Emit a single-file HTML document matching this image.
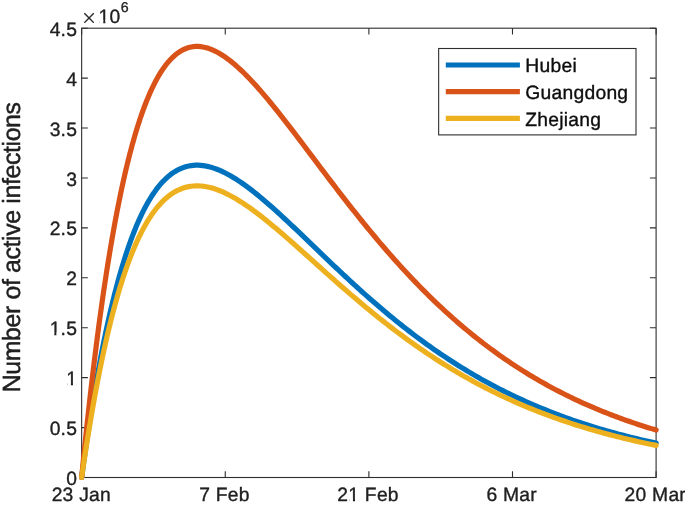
<!DOCTYPE html>
<html lang="en"><head><meta charset="utf-8"><title>Number of active infections</title>
<style>html,body{margin:0;padding:0;background:#fff}body{width:685px;height:506px;overflow:hidden}svg{display:block}text{text-rendering:geometricPrecision}</style></head>
<body>
<svg width="685" height="506" viewBox="0 0 685 506">
<rect x="0" y="0" width="685" height="506" fill="#fff"/>
<g stroke="#2e2e2e" stroke-width="1.1" fill="none">
<rect x="81.65" y="28.2" width="574.45" height="449.30"/>
<path d="M81.65,477.5 v-6.2 M81.65,28.2 v6.2"/>
<path d="M225.26,477.5 v-6.2 M225.26,28.2 v6.2"/>
<path d="M368.88,477.5 v-6.2 M368.88,28.2 v6.2"/>
<path d="M512.49,477.5 v-6.2 M512.49,28.2 v6.2"/>
<path d="M656.10,477.5 v-6.2 M656.10,28.2 v6.2"/>
<path d="M81.65,477.50 h6.2 M656.1,477.50 h-6.2"/>
<path d="M81.65,427.58 h6.2 M656.1,427.58 h-6.2"/>
<path d="M81.65,377.66 h6.2 M656.1,377.66 h-6.2"/>
<path d="M81.65,327.73 h6.2 M656.1,327.73 h-6.2"/>
<path d="M81.65,277.81 h6.2 M656.1,277.81 h-6.2"/>
<path d="M81.65,227.89 h6.2 M656.1,227.89 h-6.2"/>
<path d="M81.65,177.97 h6.2 M656.1,177.97 h-6.2"/>
<path d="M81.65,128.04 h6.2 M656.1,128.04 h-6.2"/>
<path d="M81.65,78.12 h6.2 M656.1,78.12 h-6.2"/>
<path d="M81.65,28.20 h6.2 M656.1,28.20 h-6.2"/>
</g>
<path d="M81.65,477.50 L82.41,471.91 L83.16,466.40 L83.92,460.96 L84.67,455.59 L85.43,450.29 L86.19,445.07 L86.94,439.92 L87.70,434.84 L88.45,429.82 L89.21,424.88 L89.96,420.00 L90.72,415.19 L91.48,410.45 L92.23,405.78 L92.99,401.16 L93.74,396.62 L94.50,392.14 L95.26,387.72 L96.01,383.36 L96.77,379.07 L97.52,374.83 L98.28,370.66 L99.03,366.55 L99.79,362.49 L100.55,358.50 L101.30,354.56 L102.06,350.68 L102.81,346.86 L103.57,343.10 L104.33,339.39 L105.08,335.73 L105.84,332.13 L106.59,328.59 L107.35,325.09 L108.10,321.65 L108.86,318.27 L109.62,314.93 L110.37,311.65 L111.13,308.41 L111.88,305.23 L112.64,302.09 L113.40,299.01 L114.15,295.97 L114.91,292.98 L115.66,290.04 L116.42,287.15 L117.18,284.30 L117.93,281.50 L118.69,278.74 L119.44,276.03 L120.20,273.37 L120.95,270.74 L121.71,268.16 L122.47,265.63 L123.22,263.13 L123.98,260.68 L124.73,258.27 L125.49,255.90 L126.25,253.58 L127.00,251.29 L127.76,249.04 L128.51,246.83 L129.27,244.67 L130.02,242.53 L130.78,240.44 L131.54,238.39 L132.29,236.37 L133.05,234.39 L133.80,232.45 L134.56,230.54 L135.32,228.67 L136.07,226.83 L136.83,225.03 L137.58,223.26 L138.34,221.53 L139.10,219.83 L139.85,218.16 L140.61,216.53 L141.36,214.93 L142.12,213.36 L144.45,208.71 L146.79,204.36 L149.13,200.29 L151.46,196.50 L153.80,192.97 L156.14,189.69 L158.47,186.66 L160.81,183.87 L163.14,181.31 L165.48,178.96 L167.82,176.83 L170.15,174.91 L172.49,173.18 L174.83,171.64 L177.16,170.28 L179.50,169.10 L181.84,168.09 L184.17,167.24 L186.51,166.54 L188.84,166.00 L191.18,165.60 L193.52,165.34 L195.85,165.21 L198.19,165.21 L200.53,165.34 L202.86,165.58 L205.20,165.93 L207.53,166.39 L209.87,166.96 L212.21,167.62 L214.54,168.38 L216.88,169.23 L219.22,170.17 L221.55,171.18 L223.89,172.28 L226.22,173.45 L228.56,174.70 L230.90,176.01 L233.23,177.39 L235.57,178.83 L237.91,180.33 L240.24,181.88 L242.58,183.49 L244.91,185.15 L247.25,186.85 L249.59,188.60 L251.92,190.40 L254.26,192.23 L256.60,194.10 L258.93,196.00 L261.27,197.94 L263.60,199.91 L265.94,201.91 L268.28,203.94 L270.61,205.99 L272.95,208.06 L275.29,210.16 L277.62,212.28 L279.96,214.41 L282.30,216.56 L284.63,218.73 L286.97,220.91 L289.30,223.10 L291.64,225.30 L293.98,227.51 L296.31,229.73 L298.65,231.96 L300.99,234.20 L303.32,236.43 L305.66,238.68 L307.99,240.92 L310.33,243.17 L312.67,245.42 L315.00,247.67 L317.34,249.91 L319.68,252.16 L322.01,254.40 L324.35,256.64 L326.68,258.87 L329.02,261.10 L331.36,263.33 L333.69,265.55 L336.03,267.76 L338.37,269.96 L340.70,272.16 L343.04,274.34 L345.37,276.52 L347.71,278.69 L350.05,280.85 L352.38,283.00 L354.72,285.14 L357.06,287.26 L359.39,289.38 L361.73,291.48 L364.07,293.57 L366.40,295.65 L368.74,297.71 L371.07,299.77 L373.41,301.80 L375.75,303.83 L378.08,305.84 L380.42,307.84 L382.76,309.82 L385.09,311.79 L387.43,313.74 L389.76,315.68 L392.10,317.60 L394.44,319.50 L396.77,321.40 L399.11,323.27 L401.45,325.13 L403.78,326.98 L406.12,328.81 L408.45,330.62 L410.79,332.42 L413.13,334.20 L415.46,335.97 L417.80,337.72 L420.14,339.45 L422.47,341.17 L424.81,342.87 L427.14,344.55 L429.48,346.22 L431.82,347.87 L434.15,349.51 L436.49,351.13 L438.83,352.73 L441.16,354.32 L443.50,355.89 L445.83,357.45 L448.17,358.99 L450.51,360.51 L452.84,362.02 L455.18,363.51 L457.52,364.99 L459.85,366.45 L462.19,367.89 L464.53,369.32 L466.86,370.73 L469.20,372.13 L471.53,373.51 L473.87,374.88 L476.21,376.23 L478.54,377.57 L480.88,378.89 L483.22,380.20 L485.55,381.49 L487.89,382.77 L490.22,384.03 L492.56,385.28 L494.90,386.52 L497.23,387.74 L499.57,388.94 L501.91,390.13 L504.24,391.31 L506.58,392.47 L508.91,393.62 L511.25,394.76 L513.59,395.88 L515.92,396.99 L518.26,398.08 L520.60,399.16 L522.93,400.23 L525.27,401.29 L527.60,402.33 L529.94,403.36 L532.28,404.38 L534.61,405.38 L536.95,406.37 L539.29,407.35 L541.62,408.32 L543.96,409.28 L546.29,410.22 L548.63,411.15 L550.97,412.07 L553.30,412.98 L555.64,413.88 L557.98,414.76 L560.31,415.64 L562.65,416.50 L564.99,417.35 L567.32,418.19 L569.66,419.02 L571.99,419.84 L574.33,420.65 L576.67,421.45 L579.00,422.24 L581.34,423.01 L583.68,423.78 L586.01,424.54 L588.35,425.28 L590.68,426.02 L593.02,426.75 L595.36,427.47 L597.69,428.18 L600.03,428.88 L602.37,429.57 L604.70,430.25 L607.04,430.92 L609.37,431.58 L611.71,432.23 L614.05,432.88 L616.38,433.52 L618.72,434.14 L621.06,434.76 L623.39,435.37 L625.73,435.98 L628.06,436.57 L630.40,437.16 L632.74,437.74 L635.07,438.31 L637.41,438.87 L639.75,439.43 L642.08,439.97 L644.42,440.51 L646.75,441.05 L649.09,441.57 L651.43,442.09 L653.76,442.60 L656.10,443.10" fill="none" stroke="#0072BD" stroke-width="5.2" stroke-linejoin="round" stroke-linecap="round"/>
<path d="M81.65,477.50 L82.41,469.79 L83.16,462.17 L83.92,454.66 L84.67,447.26 L85.43,439.95 L86.19,432.74 L86.94,425.63 L87.70,418.61 L88.45,411.69 L89.21,404.87 L89.96,398.14 L90.72,391.50 L91.48,384.96 L92.23,378.50 L92.99,372.14 L93.74,365.86 L94.50,359.68 L95.26,353.58 L96.01,347.56 L96.77,341.64 L97.52,335.79 L98.28,330.03 L99.03,324.36 L99.79,318.76 L100.55,313.25 L101.30,307.81 L102.06,302.46 L102.81,297.19 L103.57,291.99 L104.33,286.87 L105.08,281.82 L105.84,276.85 L106.59,271.96 L107.35,267.14 L108.10,262.39 L108.86,257.72 L109.62,253.11 L110.37,248.58 L111.13,244.12 L111.88,239.72 L112.64,235.39 L113.40,231.14 L114.15,226.95 L114.91,222.82 L115.66,218.76 L116.42,214.77 L117.18,210.84 L117.93,206.97 L118.69,203.16 L119.44,199.42 L120.20,195.74 L120.95,192.12 L121.71,188.56 L122.47,185.06 L123.22,181.62 L123.98,178.24 L124.73,174.91 L125.49,171.64 L126.25,168.43 L127.00,165.27 L127.76,162.17 L128.51,159.12 L129.27,156.13 L130.02,153.19 L130.78,150.30 L131.54,147.46 L132.29,144.68 L133.05,141.95 L133.80,139.26 L134.56,136.63 L135.32,134.05 L136.07,131.51 L136.83,129.02 L137.58,126.58 L138.34,124.19 L139.10,121.85 L139.85,119.55 L140.61,117.29 L141.36,115.08 L142.12,112.92 L144.45,106.51 L146.79,100.50 L149.13,94.88 L151.46,89.64 L153.80,84.77 L156.14,80.25 L158.47,76.07 L160.81,72.21 L163.14,68.68 L165.48,65.44 L167.82,62.50 L170.15,59.84 L172.49,57.45 L174.83,55.33 L177.16,53.46 L179.50,51.83 L181.84,50.43 L184.17,49.25 L186.51,48.30 L188.84,47.55 L191.18,47.00 L193.52,46.64 L195.85,46.46 L198.19,46.46 L200.53,46.63 L202.86,46.97 L205.20,47.45 L207.53,48.09 L209.87,48.87 L212.21,49.79 L214.54,50.83 L216.88,52.01 L219.22,53.30 L221.55,54.70 L223.89,56.22 L226.22,57.84 L228.56,59.56 L230.90,61.37 L233.23,63.27 L235.57,65.26 L237.91,67.33 L240.24,69.47 L242.58,71.69 L244.91,73.98 L247.25,76.33 L249.59,78.75 L251.92,81.22 L254.26,83.75 L256.60,86.33 L258.93,88.96 L261.27,91.64 L263.60,94.36 L265.94,97.12 L268.28,99.91 L270.61,102.74 L272.95,105.61 L275.29,108.50 L277.62,111.42 L279.96,114.37 L282.30,117.33 L284.63,120.32 L286.97,123.33 L289.30,126.36 L291.64,129.40 L293.98,132.45 L296.31,135.52 L298.65,138.59 L300.99,141.68 L303.32,144.77 L305.66,147.86 L307.99,150.96 L310.33,154.06 L312.67,157.17 L315.00,160.27 L317.34,163.37 L319.68,166.47 L322.01,169.56 L324.35,172.65 L326.68,175.74 L329.02,178.82 L331.36,181.89 L333.69,184.95 L336.03,188.00 L338.37,191.04 L340.70,194.07 L343.04,197.09 L345.37,200.10 L347.71,203.09 L350.05,206.07 L352.38,209.04 L354.72,211.99 L357.06,214.92 L359.39,217.84 L361.73,220.75 L364.07,223.63 L366.40,226.50 L368.74,229.35 L371.07,232.18 L373.41,234.99 L375.75,237.79 L378.08,240.56 L380.42,243.32 L382.76,246.05 L385.09,248.77 L387.43,251.46 L389.76,254.14 L392.10,256.79 L394.44,259.43 L396.77,262.04 L399.11,264.63 L401.45,267.19 L403.78,269.74 L406.12,272.27 L408.45,274.77 L410.79,277.25 L413.13,279.71 L415.46,282.15 L417.80,284.56 L420.14,286.95 L422.47,289.32 L424.81,291.67 L427.14,294.00 L429.48,296.30 L431.82,298.58 L434.15,300.84 L436.49,303.07 L438.83,305.29 L441.16,307.48 L443.50,309.65 L445.83,311.80 L448.17,313.92 L450.51,316.02 L452.84,318.10 L455.18,320.16 L457.52,322.20 L459.85,324.22 L462.19,326.21 L464.53,328.18 L466.86,330.13 L469.20,332.06 L471.53,333.97 L473.87,335.86 L476.21,337.73 L478.54,339.57 L480.88,341.40 L483.22,343.20 L485.55,344.99 L487.89,346.75 L490.22,348.49 L492.56,350.21 L494.90,351.92 L497.23,353.60 L499.57,355.26 L501.91,356.91 L504.24,358.53 L506.58,360.14 L508.91,361.72 L511.25,363.29 L513.59,364.84 L515.92,366.37 L518.26,367.88 L520.60,369.38 L522.93,370.85 L525.27,372.31 L527.60,373.75 L529.94,375.17 L532.28,376.57 L534.61,377.96 L536.95,379.33 L539.29,380.68 L541.62,382.02 L543.96,383.34 L546.29,384.64 L548.63,385.92 L550.97,387.19 L553.30,388.45 L555.64,389.68 L557.98,390.91 L560.31,392.11 L562.65,393.30 L564.99,394.48 L567.32,395.64 L569.66,396.78 L571.99,397.92 L574.33,399.03 L576.67,400.13 L579.00,401.22 L581.34,402.29 L583.68,403.35 L586.01,404.40 L588.35,405.43 L590.68,406.45 L593.02,407.45 L595.36,408.44 L597.69,409.42 L600.03,410.39 L602.37,411.34 L604.70,412.28 L607.04,413.20 L609.37,414.12 L611.71,415.02 L614.05,415.91 L616.38,416.79 L618.72,417.66 L621.06,418.51 L623.39,419.36 L625.73,420.19 L628.06,421.01 L630.40,421.82 L632.74,422.62 L635.07,423.40 L637.41,424.18 L639.75,424.95 L642.08,425.70 L644.42,426.45 L646.75,427.18 L649.09,427.91 L651.43,428.62 L653.76,429.33 L656.10,430.03" fill="none" stroke="#D95319" stroke-width="5.2" stroke-linejoin="round" stroke-linecap="round"/>
<path d="M81.65,477.50 L82.41,472.28 L83.16,467.13 L83.92,462.05 L84.67,457.04 L85.43,452.09 L86.19,447.21 L86.94,442.40 L87.70,437.66 L88.45,432.97 L89.21,428.36 L89.96,423.80 L90.72,419.31 L91.48,414.88 L92.23,410.52 L92.99,406.21 L93.74,401.97 L94.50,397.78 L95.26,393.65 L96.01,389.58 L96.77,385.57 L97.52,381.62 L98.28,377.72 L99.03,373.88 L99.79,370.10 L100.55,366.37 L101.30,362.69 L102.06,359.07 L102.81,355.50 L103.57,351.98 L104.33,348.52 L105.08,345.11 L105.84,341.74 L106.59,338.43 L107.35,335.17 L108.10,331.96 L108.86,328.79 L109.62,325.68 L110.37,322.61 L111.13,319.59 L111.88,316.62 L112.64,313.69 L113.40,310.81 L114.15,307.97 L114.91,305.18 L115.66,302.44 L116.42,299.73 L117.18,297.07 L117.93,294.46 L118.69,291.88 L119.44,289.35 L120.20,286.86 L120.95,284.41 L121.71,282.00 L122.47,279.64 L123.22,277.31 L123.98,275.02 L124.73,272.77 L125.49,270.56 L126.25,268.38 L127.00,266.25 L127.76,264.15 L128.51,262.08 L129.27,260.06 L130.02,258.07 L130.78,256.12 L131.54,254.20 L132.29,252.31 L133.05,250.46 L133.80,248.65 L134.56,246.87 L135.32,245.12 L136.07,243.40 L136.83,241.72 L137.58,240.07 L138.34,238.45 L139.10,236.86 L139.85,235.31 L140.61,233.78 L141.36,232.29 L142.12,230.83 L144.45,226.49 L146.79,222.42 L149.13,218.62 L151.46,215.08 L153.80,211.78 L156.14,208.72 L158.47,205.89 L160.81,203.28 L163.14,200.89 L165.48,198.70 L167.82,196.71 L170.15,194.91 L172.49,193.30 L174.83,191.86 L177.16,190.59 L179.50,189.49 L181.84,188.54 L184.17,187.75 L186.51,187.10 L188.84,186.59 L191.18,186.22 L193.52,185.98 L195.85,185.86 L198.19,185.86 L200.53,185.98 L202.86,186.20 L205.20,186.53 L207.53,186.96 L209.87,187.49 L212.21,188.11 L214.54,188.82 L216.88,189.61 L219.22,190.49 L221.55,191.44 L223.89,192.46 L226.22,193.56 L228.56,194.72 L230.90,195.94 L233.23,197.23 L235.57,198.58 L237.91,199.98 L240.24,201.43 L242.58,202.93 L244.91,204.48 L247.25,206.07 L249.59,207.70 L251.92,209.38 L254.26,211.09 L256.60,212.84 L258.93,214.62 L261.27,216.43 L263.60,218.27 L265.94,220.13 L268.28,222.02 L270.61,223.94 L272.95,225.88 L275.29,227.83 L277.62,229.81 L279.96,231.80 L282.30,233.81 L284.63,235.84 L286.97,237.87 L289.30,239.92 L291.64,241.97 L293.98,244.04 L296.31,246.12 L298.65,248.20 L300.99,250.28 L303.32,252.37 L305.66,254.47 L307.99,256.56 L310.33,258.66 L312.67,260.76 L315.00,262.86 L317.34,264.96 L319.68,267.06 L322.01,269.15 L324.35,271.24 L326.68,273.33 L329.02,275.41 L331.36,277.49 L333.69,279.56 L336.03,281.62 L338.37,283.68 L340.70,285.73 L343.04,287.78 L345.37,289.81 L347.71,291.84 L350.05,293.85 L352.38,295.86 L354.72,297.85 L357.06,299.84 L359.39,301.82 L361.73,303.78 L364.07,305.73 L366.40,307.67 L368.74,309.60 L371.07,311.52 L373.41,313.42 L375.75,315.31 L378.08,317.19 L380.42,319.05 L382.76,320.90 L385.09,322.74 L387.43,324.56 L389.76,326.37 L392.10,328.17 L394.44,329.95 L396.77,331.72 L399.11,333.47 L401.45,335.21 L403.78,336.93 L406.12,338.64 L408.45,340.33 L410.79,342.01 L413.13,343.67 L415.46,345.32 L417.80,346.96 L420.14,348.58 L422.47,350.18 L424.81,351.77 L427.14,353.34 L429.48,354.90 L431.82,356.44 L434.15,357.97 L436.49,359.48 L438.83,360.98 L441.16,362.46 L443.50,363.93 L445.83,365.38 L448.17,366.82 L450.51,368.25 L452.84,369.65 L455.18,371.05 L457.52,372.43 L459.85,373.79 L462.19,375.14 L464.53,376.47 L466.86,377.79 L469.20,379.10 L471.53,380.39 L473.87,381.67 L476.21,382.93 L478.54,384.18 L480.88,385.41 L483.22,386.63 L485.55,387.84 L487.89,389.03 L490.22,390.21 L492.56,391.38 L494.90,392.53 L497.23,393.67 L499.57,394.80 L501.91,395.91 L504.24,397.01 L506.58,398.09 L508.91,399.17 L511.25,400.23 L513.59,401.27 L515.92,402.31 L518.26,403.33 L520.60,404.34 L522.93,405.34 L525.27,406.33 L527.60,407.30 L529.94,408.26 L532.28,409.21 L534.61,410.15 L536.95,411.08 L539.29,411.99 L541.62,412.90 L543.96,413.79 L546.29,414.67 L548.63,415.54 L550.97,416.40 L553.30,417.25 L555.64,418.08 L557.98,418.91 L560.31,419.73 L562.65,420.53 L564.99,421.33 L567.32,422.11 L569.66,422.89 L571.99,423.65 L574.33,424.41 L576.67,425.15 L579.00,425.89 L581.34,426.62 L583.68,427.33 L586.01,428.04 L588.35,428.74 L590.68,429.43 L593.02,430.11 L595.36,430.78 L597.69,431.44 L600.03,432.09 L602.37,432.73 L604.70,433.37 L607.04,434.00 L609.37,434.62 L611.71,435.23 L614.05,435.83 L616.38,436.42 L618.72,437.01 L621.06,437.59 L623.39,438.16 L625.73,438.72 L628.06,439.28 L630.40,439.83 L632.74,440.37 L635.07,440.90 L637.41,441.42 L639.75,441.94 L642.08,442.45 L644.42,442.96 L646.75,443.46 L649.09,443.95 L651.43,444.43 L653.76,444.91 L656.10,445.38" fill="none" stroke="#EDB120" stroke-width="5.2" stroke-linejoin="round" stroke-linecap="round"/>
<g font-family="'Liberation Sans', Arial, Helvetica, sans-serif" font-size="19.3" letter-spacing="0.25" fill="#202020" stroke="#202020" stroke-width="0.35" stroke-linejoin="round">
<text id="y0" x="77.2" y="485.10" text-anchor="end">0</text>
<text id="y0.5" x="77.2" y="435.18" text-anchor="end">0.5</text>
<text id="y1" x="77.2" y="385.26" text-anchor="end">1</text>
<text id="y1.5" x="77.2" y="335.33" text-anchor="end">1.5</text>
<text id="y2" x="77.2" y="285.41" text-anchor="end">2</text>
<text id="y2.5" x="77.2" y="235.49" text-anchor="end">2.5</text>
<text id="y3" x="77.2" y="185.57" text-anchor="end">3</text>
<text id="y3.5" x="77.2" y="135.64" text-anchor="end">3.5</text>
<text id="y4" x="77.2" y="85.72" text-anchor="end">4</text>
<text id="y4.5" x="77.2" y="35.80" text-anchor="end">4.5</text>
<text id="x0" x="81.35" y="500.8" text-anchor="middle">23 Jan</text>
<text id="x1" x="224.46" y="500.8" text-anchor="middle">7 Feb</text>
<text id="x2" x="368.07" y="500.8" text-anchor="middle">21 Feb</text>
<text id="x3" x="511.69" y="500.8" text-anchor="middle">6 Mar</text>
<text id="x4" x="655.30" y="500.8" text-anchor="middle">20 Mar</text>
<text id="times" x="81.1" y="23.6" font-family="'DejaVu Sans Light', 'DejaVu Sans', sans-serif" font-weight="200" stroke-width="0.3">×</text>
<text id="ten" x="98.6" y="22.6">10</text>
<text id="six" x="120.8" y="12.1" font-size="14.2" letter-spacing="0">6</text>
<g fill="#fff" stroke="none"><rect x="67.38" y="382.51" width="3.50" height="4.04"/><rect x="72.98" y="382.51" width="3.67" height="4.04"/><rect x="50.78" y="332.59" width="3.50" height="4.04"/><rect x="56.39" y="332.59" width="3.67" height="4.04"/><rect x="349.42" y="498.06" width="3.50" height="4.04"/><rect x="355.03" y="498.06" width="3.67" height="4.04"/><rect x="99.76" y="19.86" width="3.50" height="4.04"/><rect x="105.36" y="19.86" width="3.67" height="4.04"/></g>
<text id="ylab" transform="translate(20.40,392.30) rotate(-90)" font-size="24.9" stroke-width="0.45" letter-spacing="-0.380">Number of active infections</text>
</g>
<rect x="438.65" y="48.5" width="197.35" height="86.4" fill="#fff" stroke="#2e2e2e" stroke-width="1.1"/>
<path d="M445.8,65.00 H519.9" stroke="#0072BD" stroke-width="5.2" fill="none"/>
<text id="lg0" x="525.30" y="72.20" letter-spacing="0.250" font-family="'Liberation Sans', Arial, Helvetica, sans-serif" font-size="19.3" fill="#0d0d0d" stroke="#0d0d0d" stroke-width="0.35" stroke-linejoin="round">Hubei</text>
<path d="M445.8,91.70 H519.9" stroke="#D95319" stroke-width="5.2" fill="none"/>
<text id="lg1" x="525.30" y="98.90" letter-spacing="0.250" font-family="'Liberation Sans', Arial, Helvetica, sans-serif" font-size="19.3" fill="#0d0d0d" stroke="#0d0d0d" stroke-width="0.35" stroke-linejoin="round">Guangdong</text>
<path d="M445.8,118.40 H519.9" stroke="#EDB120" stroke-width="5.2" fill="none"/>
<text id="lg2" x="525.30" y="125.60" letter-spacing="0.250" font-family="'Liberation Sans', Arial, Helvetica, sans-serif" font-size="19.3" fill="#0d0d0d" stroke="#0d0d0d" stroke-width="0.35" stroke-linejoin="round">Zhejiang</text>
</svg>
</body></html>
